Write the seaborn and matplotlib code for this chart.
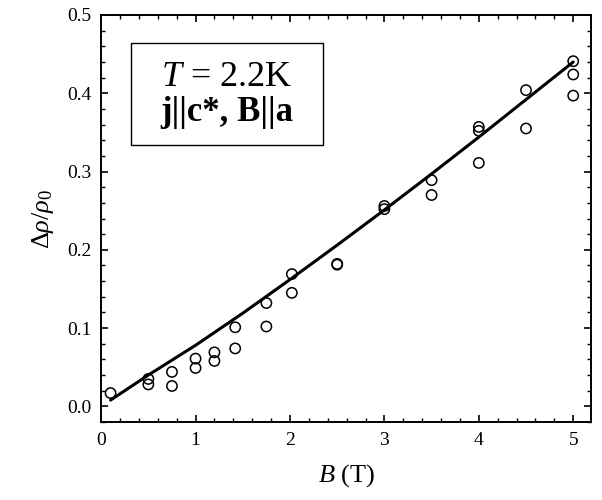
import numpy as np
import pandas as pd
import matplotlib
matplotlib.use('Agg')
import matplotlib.pyplot as plt
import seaborn as sns
from matplotlib.ticker import MultipleLocator, FormatStrFormatter
from matplotlib.patches import Rectangle

# measured magnetoresistance points (B in tesla)
b_data = [0.1, 0.5, 0.5, 0.75, 0.75, 1.0, 1.0, 1.2, 1.2, 1.42, 1.42,
          1.75, 1.75, 2.02, 2.02, 2.5, 2.5, 3.0, 3.0, 3.5, 3.5,
          4.0, 4.0, 4.0, 4.5, 4.5, 5.0, 5.0, 5.0]
drho_data = [0.017, 0.035, 0.028, 0.044, 0.026, 0.061, 0.049, 0.069, 0.058, 0.101, 0.074,
             0.132, 0.102, 0.169, 0.145, 0.182, 0.181, 0.256, 0.252, 0.289, 0.270,
             0.357, 0.352, 0.311, 0.404, 0.355, 0.441, 0.424, 0.397]

# fitted curve
b_fit = [0.1, 0.5, 1.0, 1.5, 2.0, 2.5, 3.0, 3.5, 4.0, 4.5, 5.0]
drho_fit = [0.008, 0.040, 0.078, 0.119, 0.162, 0.206, 0.251, 0.297, 0.344, 0.392, 0.440]

df_points = pd.DataFrame({'B': b_data, 'drho': drho_data})
df_fit = pd.DataFrame({'B': b_fit, 'drho': drho_fit})

sns.set_style('ticks')
plt.rcParams['font.family'] = ['Liberation Serif', 'DejaVu Serif']
plt.rcParams['mathtext.fontset'] = 'custom'
plt.rcParams['mathtext.rm'] = 'Liberation Serif'
plt.rcParams['mathtext.it'] = 'Liberation Serif:italic'
plt.rcParams['mathtext.bf'] = 'Liberation Serif:bold'
for key in ['text.color', 'axes.labelcolor', 'xtick.color', 'ytick.color', 'axes.edgecolor']:
    plt.rcParams[key] = 'black'

fig = plt.figure(figsize=(6.02, 5.0), dpi=100)
ax = fig.add_axes([0.168, 0.156, 0.814, 0.814])

sns.lineplot(data=df_fit, x='B', y='drho', color='black', linewidth=2.2, ax=ax)
sns.scatterplot(data=df_points, x='B', y='drho', marker='o', s=55,
                facecolors='none', edgecolor='black', linewidth=1.1, ax=ax)

ax.set_xlim(0, 5.19)
ax.set_ylim(-0.02, 0.5)
ax.xaxis.set_major_locator(MultipleLocator(1))
ax.xaxis.set_minor_locator(MultipleLocator(0.2))
ax.yaxis.set_major_locator(MultipleLocator(0.1))
ax.yaxis.set_minor_locator(MultipleLocator(0.02))
ax.yaxis.set_major_formatter(FormatStrFormatter('%.1f'))
ax.tick_params(which='both', direction='in', top=True, right=True, labelsize=14, pad=7)
ax.tick_params(which='major', length=5, width=1.2)
ax.tick_params(which='minor', length=3, width=1.0)
for spine in ax.spines.values():
    spine.set_linewidth(1.4)

ax.set_xlabel(r'$B$ (T)', fontsize=19, labelpad=10)
ax.set_ylabel(r'$\Delta\rho/\rho_0$', fontsize=19, labelpad=8)

# annotation box
ax.add_patch(Rectangle((0.061, 0.68), 0.392, 0.252, transform=ax.transAxes,
                       fill=False, edgecolor='black', linewidth=1.0))
ax.text(0.257, 0.847, r'$T$ = 2.2K', transform=ax.transAxes, fontsize=26,
        ha='center', va='center')
ax.text(0.257, 0.76, 'j||c*, B||a', transform=ax.transAxes, fontsize=25,
        fontweight='bold', ha='center', va='center')

plt.savefig('out.png', dpi=100)
